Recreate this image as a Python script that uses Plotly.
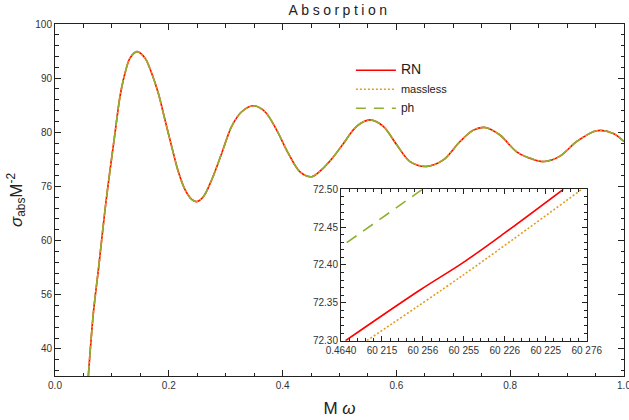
import plotly.graph_objects as go

# Absorption cross section vs M*omega (the three cases coincide at this scale)
m_omega = [0.0586, 0.0674, 0.0770, 0.0879, 0.0967, 0.1054, 0.1142, 0.1230, 0.1318, 0.1441,
           0.1582, 0.1699, 0.1816, 0.1933, 0.2050, 0.2168, 0.2285, 0.2402, 0.2490, 0.2607,
           0.2753, 0.2929, 0.3105, 0.3281, 0.3486, 0.3691, 0.3896, 0.4101, 0.4306, 0.4511,
           0.4716, 0.4880, 0.5067, 0.5300, 0.5536, 0.5770, 0.6005, 0.6239, 0.6532, 0.6825,
           0.7118, 0.7352, 0.7557, 0.7821, 0.8114, 0.8407, 0.8600, 0.8875, 0.9169, 0.9520,
           0.9812, 1.0]
sigma_abs = [35.0, 46.6, 55.3, 65.7, 73.0, 79.8, 86.6, 90.9, 93.7, 94.9,
             93.7, 90.9, 87.2, 82.3, 77.4, 72.7, 69.4, 67.6, 67.2, 68.1,
             71.2, 76.1, 81.1, 83.8, 84.9, 83.8, 80.4, 76.1, 72.7, 71.8,
             73.4, 75.3, 77.9, 81.1, 82.3, 81.1, 77.7, 74.6, 73.7, 74.9,
             78.3, 80.4, 80.9, 79.5, 76.4, 75.0, 74.6, 75.6, 78.3, 80.3,
             79.8, 78.3]

# Zoomed window near M*omega = 0.4640
inset_x_rn = [0.464011, 0.464193, 0.464299, 0.464399, 0.464543]
inset_y_rn = [72.300, 72.367, 72.4035, 72.442, 72.500]
inset_x_massless = [0.464063, 0.464299, 0.464588]
inset_y_massless = [72.300, 72.387, 72.500]
inset_x_ph = [0.464014, 0.464199]
inset_y_ph = [72.4295, 72.500]

# Axis tick labels
main_y_vals = [40, 50, 60, 70, 80, 90, 100]
main_y_text = ["40", "56", "60", "76", "80", "90", "100"]
main_x_vals = [0.0, 0.2, 0.4, 0.6, 0.8, 1.0]
main_x_text = ["0.0", "0.2", "0.4", "0.6", "0.8", "1.0"]
inset_x_vals = [0.4640, 0.4641, 0.4642, 0.4643, 0.4644, 0.4645, 0.4646]
inset_x_text = ["0.4640", "60 215", "60 256", "60 255", "60 226", "60 225", "60 276"]
inset_y_vals = [72.30, 72.35, 72.40, 72.45, 72.50]

RED = "#ff0000"
ORANGE = "#e19c24"
GREEN = "#8fb032"
AXIS = "#222222"
FONT = "Liberation Sans, Arial, sans-serif"

fig = go.Figure()

# main panel
fig.add_trace(go.Scatter(x=m_omega, y=sigma_abs, mode="lines",
                         line_shape="spline", name='<span style="font-size:14px">RN</span>',
                         line=dict(color=RED, width=1.6, smoothing=0.9)))
fig.add_trace(go.Scatter(x=m_omega, y=sigma_abs, mode="lines",
                         line_shape="spline", name="massless",
                         line=dict(color=ORANGE, width=1.6, dash="2px,2px", smoothing=0.9)))
fig.add_trace(go.Scatter(x=m_omega, y=sigma_abs, mode="lines",
                         line_shape="spline", name='<span style="font-size:12px">ph</span>',
                         line=dict(color=GREEN, width=1.6, dash="10px,8px", smoothing=0.9)))

# inset panel
fig.add_trace(go.Scatter(x=inset_x_rn, y=inset_y_rn, mode="lines", line_shape="spline",
                         xaxis="x2", yaxis="y2", showlegend=False,
                         line=dict(color=RED, width=1.6)))
fig.add_trace(go.Scatter(x=inset_x_massless, y=inset_y_massless, mode="lines",
                         line_shape="spline", xaxis="x2", yaxis="y2", showlegend=False,
                         line=dict(color=ORANGE, width=1.6, dash="2px,2px")))
fig.add_trace(go.Scatter(x=inset_x_ph, y=inset_y_ph, mode="lines", xaxis="x2", yaxis="y2",
                         showlegend=False,
                         line=dict(color=GREEN, width=1.6, dash="12px,8px")))

axis_common = dict(showgrid=False, zeroline=False, showline=True, linecolor=AXIS,
                   linewidth=1, mirror="ticks", ticks="inside", tickcolor=AXIS,
                   tickwidth=1, ticklen=6, automargin=False, ticklabeloverflow="allow",
                   tickfont=dict(family=FONT, size=10, color="#333333"))

fig.update_layout(
    width=629, height=420,
    margin=dict(l=55, r=5, t=24, b=44),
    paper_bgcolor="white", plot_bgcolor="white",
    font=dict(family=FONT, color="#222222"),
    title=dict(text='<span style="letter-spacing:3.5px">Absorption</span>',
               x=0.5, xref="paper", xanchor="center", y=0.975, yanchor="middle",
               font=dict(family=FONT, size=14, color="#222222")),
    xaxis=dict(axis_common, domain=[0, 1], range=[0, 1], tickvals=main_x_vals,
               ticktext=main_x_text,
               minor=dict(dtick=0.05, ticks="inside", ticklen=3.5, tickcolor=AXIS),
               title=dict(text="M <i>ω</i>", font=dict(family=FONT, size=17), standoff=12)),
    yaxis=dict(axis_common, domain=[0, 1], range=[35, 100], tickvals=main_y_vals,
               ticktext=main_y_text,
               minor=dict(dtick=2, tick0=0, ticks="inside", ticklen=3.5, tickcolor=AXIS),
               title=dict(text="<i>σ</i><sub>abs</sub>M<sup>-2</sup>",
                          font=dict(family=FONT, size=17), standoff=8)),
    xaxis2=dict(axis_common, domain=[0.5026, 0.9345], range=[0.4640, 0.4646],
                anchor="y2", tickvals=inset_x_vals, ticktext=inset_x_text,
                ticklen=5,
                minor=dict(dtick=0.00002, tick0=0.4640, ticks="inside", ticklen=3,
                           tickcolor=AXIS)),
    yaxis2=dict(axis_common, domain=[0.1003, 0.5304], range=[72.30, 72.50],
                anchor="x2", tickvals=inset_y_vals, tickformat=".2f", ticklen=5,
                minor=dict(dtick=0.01, tick0=72.30, ticks="inside", ticklen=3,
                           tickcolor=AXIS)),
    legend=dict(x=0.52, y=0.91, xanchor="left", yanchor="top",
                bgcolor="rgba(0,0,0,0)", font=dict(family=FONT, size=11, color="#222222"),
                itemwidth=40, tracegroupgap=0),
    showlegend=True,
)

fig.write_html("out.html")
